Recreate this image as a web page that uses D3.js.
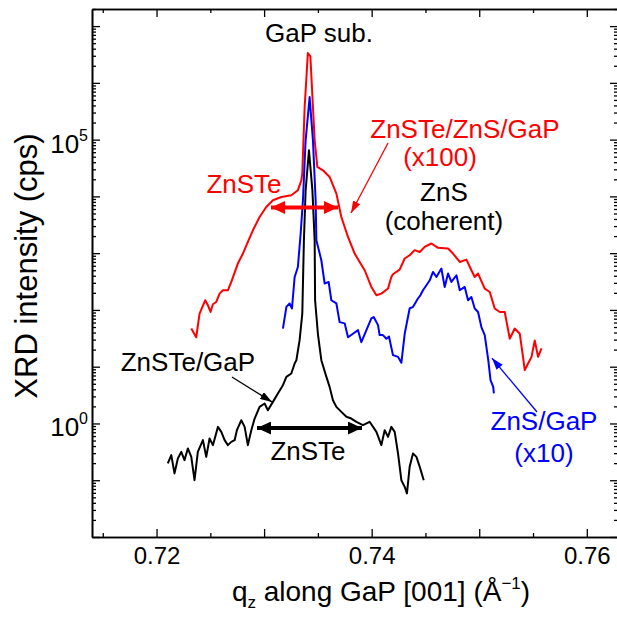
<!DOCTYPE html>
<html>
<head>
<meta charset="utf-8">
<script src="https://cdnjs.cloudflare.com/ajax/libs/d3/7.8.5/d3.min.js"></script>
<style>
body { margin: 0; background: #fff; }
svg { display: block; font-family: "Liberation Sans", Arial, sans-serif; }
</style>
</head>
<body>
<script>
// ZnSTe / ZnS / GaP (x100), red
var redQ = [0.72323, 0.72369, 0.72400, 0.72453, 0.72477, 0.72502, 0.72524, 0.72555, 0.72586, 0.72617,
            0.72663, 0.72695, 0.72756, 0.72803, 0.72849, 0.72896, 0.72958, 0.73020, 0.73082, 0.73160,
            0.73253, 0.73314, 0.73346, 0.73355, 0.73377, 0.73407, 0.73430, 0.73470, 0.73495, 0.73547,
            0.73609, 0.73672, 0.73718, 0.73780, 0.73842, 0.73888, 0.73935, 0.73997, 0.74044, 0.74090,
            0.74152, 0.74183, 0.74198, 0.74260, 0.74307, 0.74353, 0.74400, 0.74447, 0.74493, 0.74555,
            0.74617, 0.74710, 0.74756, 0.74819, 0.74881, 0.74927, 0.74958, 0.74989, 0.75051, 0.75098,
            0.75144, 0.75191, 0.75237, 0.75284, 0.75330, 0.75377, 0.75407, 0.75423, 0.75454, 0.75486,
            0.75516, 0.75547, 0.75579];
var redI = [47, 33, 86, 148, 121, 92, 126, 138, 194, 222,
            222, 311, 656, 984, 1580, 2530, 4340, 6500, 8540, 9750,
            10500, 12800, 19200, 25500, 375000, 3350000, 2930000, 97200, 33000, 28800,
            22000, 11200, 4340, 1930, 984, 700, 500, 254, 181, 194,
            238, 381, 425, 514, 804, 918, 1130, 1050, 1290, 1480,
            1240, 1210, 984, 700, 771, 500, 381, 437, 238, 207,
            106, 92, 92, 31, 47, 38, 14.9, 8.7, 11.4, 14.9,
            29, 14.9, 21];

// ZnS / GaP (x10), blue
var blueQ = [0.73175, 0.73207, 0.73237, 0.73259, 0.73284, 0.73314, 0.73340, 0.73361, 0.73386, 0.73423,
             0.73454, 0.73479, 0.73486, 0.73532, 0.73563, 0.73600, 0.73625, 0.73672, 0.73702, 0.73749,
             0.73780, 0.73826, 0.73873, 0.73904, 0.73951, 0.73997, 0.74019, 0.74059, 0.74074, 0.74105,
             0.74137, 0.74161, 0.74198, 0.74245, 0.74276, 0.74307, 0.74353, 0.74384, 0.74430, 0.74453,
             0.74477, 0.74509, 0.74540, 0.74570, 0.74602, 0.74648, 0.74679, 0.74710, 0.74741, 0.74788,
             0.74819, 0.74865, 0.74896, 0.74927, 0.74958, 0.74989, 0.75020, 0.75051, 0.75084, 0.75105,
             0.75130, 0.75136];
var blueI = [47, 113, 130, 106, 381, 571, 2240, 8540, 97200, 562000,
             97200, 8540, 1690, 750, 292, 311, 148, 130, 61, 58,
             33, 38, 44, 27, 44, 71, 75, 54, 36, 36,
             31, 34, 16, 14.9, 11.7, 38, 106, 113, 159, 181,
             222, 272, 333, 467, 381, 536, 254, 437, 311, 408,
             222, 254, 148, 169, 106, 92, 50, 36, 13, 5.8,
             4.4, 3.4];

// ZnSTe / GaP, black
var blackQ = [0.72105, 0.72137, 0.72167, 0.72198, 0.72230, 0.72260, 0.72291, 0.72323, 0.72353, 0.72384,
              0.72431, 0.72462, 0.72493, 0.72524, 0.72571, 0.72602, 0.72633, 0.72663, 0.72695, 0.72726,
              0.72747, 0.72788, 0.72819, 0.72849, 0.72881, 0.72912, 0.72958, 0.73005, 0.73035, 0.73082,
              0.73128, 0.73175, 0.73207, 0.73253, 0.73284, 0.73300, 0.73330, 0.73355, 0.73370, 0.73386,
              0.73417, 0.73449, 0.73470, 0.73474, 0.73500, 0.73532, 0.73579, 0.73609, 0.73640, 0.73672,
              0.73718, 0.73765, 0.73811, 0.73858, 0.73919, 0.73981, 0.74044, 0.74090, 0.74121, 0.74152,
              0.74183, 0.74214, 0.74245, 0.74276, 0.74307, 0.74328, 0.74353, 0.74384, 0.74416, 0.74447,
              0.74484];
var blackI = [0.198, 0.277, 0.132, 0.242, 0.316, 0.226, 0.363, 0.258, 0.100, 0.316,
              0.508, 0.258, 0.544, 0.415, 0.871, 0.711, 0.508, 0.415, 0.474, 0.508,
              0.762, 1.14, 0.871, 0.415, 0.762, 1.22, 1.96, 2.25, 1.71, 2.40,
              3.38, 4.72, 6.61, 7.59, 11.4, 13.0, 29.3, 86.4, 1690, 12800,
              64800, 12800, 1690, 148, 38, 13.0, 6.61, 4.41, 2.57, 1.96,
              1.60, 1.31, 1.22, 1.07, 0.933, 1.07, 0.711, 0.415, 0.762, 0.581,
              0.871, 0.711, 0.296, 0.100, 0.0765, 0.0586, 0.172, 0.296, 0.258, 0.172,
              0.100];

// tick values and labels
var xMajorTicks = [0.72, 0.73, 0.74, 0.75, 0.76];
var xMinorTicks = [0.715, 0.725, 0.735, 0.745, 0.755];
var xTickLabels = ["0.72", "0.74", "0.76"];
var yDecades = [-2, -1, 0, 1, 2, 3, 4, 5, 6, 7];
var yLabelPowers = [0, 5];

// size of svg and plot box
var fullWidth = 617;
var fullHeight = 617;
var box = {left: 92, right: 618, top: 9, bottom: 537};

var svg = d3.select("body")
            .append("svg")
            .attr("width", fullWidth)
            .attr("height", fullHeight);

// scales
var xScale = d3.scaleLinear()
               .domain([0.714, 0.7629])
               .range([box.left, box.right]);

var yScale = d3.scaleLog()
               .domain([1e-2, 2e7])
               .range([box.bottom, box.top]);

// minor ticks of the log axis: 2..9 in each decade
var yMajor = yDecades.map(function(p) { return Math.pow(10, p); });
var yMinor = [];
yDecades.forEach(function(p) {
    for (var k = 2; k <= 9; k++) {
        var v = k * Math.pow(10, p);
        if (v <= 2e7) yMinor.push(v);
    }
});

function styleAxis(g) {
    g.select(".domain").attr("stroke", "#000").attr("stroke-width", 1.6);
    g.selectAll(".tick line").attr("stroke", "#000").attr("stroke-width", 1.3);
}

// bottom axis (major ticks with labels, minor ticks without)
svg.append("g")
   .attr("transform", "translate(0," + box.bottom + ")")
   .call(d3.axisBottom(xScale).tickValues(xMinorTicks).tickSize(-4).tickSizeOuter(0).tickFormat(""))
   .call(styleAxis);

svg.append("g")
   .attr("transform", "translate(0," + box.bottom + ")")
   .call(d3.axisBottom(xScale).tickValues(xMajorTicks).tickSize(-8).tickSizeOuter(0).tickPadding(10)
         .tickFormat(function(d) {
             var s = d3.format(".2f")(d);
             return xTickLabels.indexOf(s) >= 0 ? s : "";
         }))
   .call(styleAxis)
   .selectAll("text")
   .attr("font-size", 24)
   .attr("font-family", "Liberation Sans, Arial, sans-serif")
   .attr("fill", "#000");

// top axis
svg.append("g")
   .attr("transform", "translate(0," + box.top + ")")
   .call(d3.axisTop(xScale).tickValues(xMinorTicks).tickSize(-4).tickSizeOuter(0).tickFormat(""))
   .call(styleAxis);
svg.append("g")
   .attr("transform", "translate(0," + box.top + ")")
   .call(d3.axisTop(xScale).tickValues(xMajorTicks).tickSize(-8).tickSizeOuter(0).tickFormat(""))
   .call(styleAxis);

// left axis
svg.append("g")
   .attr("transform", "translate(" + box.left + ",0)")
   .call(d3.axisLeft(yScale).tickValues(yMinor).tickSize(-4).tickSizeOuter(0).tickFormat(""))
   .call(styleAxis);
svg.append("g")
   .attr("transform", "translate(" + box.left + ",0)")
   .call(d3.axisLeft(yScale).tickValues(yMajor).tickSize(-8).tickSizeOuter(0).tickFormat(""))
   .call(styleAxis);

// right axis
svg.append("g")
   .attr("transform", "translate(" + box.right + ",0)")
   .call(d3.axisRight(yScale).tickValues(yMinor).tickSize(-4).tickSizeOuter(0).tickFormat(""))
   .call(styleAxis);
svg.append("g")
   .attr("transform", "translate(" + box.right + ",0)")
   .call(d3.axisRight(yScale).tickValues(yMajor).tickSize(-8).tickSizeOuter(0).tickFormat(""))
   .call(styleAxis);

// y labels 10^n
var yLab = svg.selectAll(".ylab")
              .data(yLabelPowers)
              .enter()
              .append("text")
              .attr("class", "ylab")
              .attr("x", box.left - 4)
              .attr("y", function(d) { return yScale(Math.pow(10, d)) + 13; })
              .attr("text-anchor", "end")
              .attr("font-size", 26);
yLab.append("tspan").text("10");
yLab.append("tspan")
    .attr("dy", -12)
    .attr("font-size", 16)
    .text(function(d) { return d; });

// axis titles
var xTitle = svg.append("text")
                .attr("x", 381)
                .attr("y", 601)
                .attr("text-anchor", "middle")
                .attr("font-size", 28);
xTitle.append("tspan").text("q");
xTitle.append("tspan").attr("dy", 7).attr("font-size", 17).text("z");
xTitle.append("tspan").attr("dy", -7).text(" along GaP [001] (Å");
xTitle.append("tspan").attr("dy", -12).attr("font-size", 17).text("\u22121");
xTitle.append("tspan").attr("dy", 12).text(")");

svg.append("text")
   .attr("transform", "translate(37,266) rotate(-90)")
   .attr("text-anchor", "middle")
   .attr("font-size", 31)
   .text("XRD intensity (cps)");

// arrow heads
var defs = svg.append("defs");
[["red", "#ff0000"], ["black", "#000000"], ["blue", "#0000ff"]].forEach(function(c) {
    defs.append("marker")
        .attr("id", "head-" + c[0])
        .attr("markerUnits", "userSpaceOnUse")
        .attr("viewBox", "0 0 12 8")
        .attr("markerWidth", 12)
        .attr("markerHeight", 8)
        .attr("refX", 12)
        .attr("refY", 4)
        .attr("orient", "auto-start-reverse")
        .append("path")
        .attr("d", "M0,0L12,4L0,8z")
        .attr("fill", c[1]);
    defs.append("marker")
        .attr("id", "big-" + c[0])
        .attr("markerUnits", "userSpaceOnUse")
        .attr("viewBox", "0 0 14 13")
        .attr("markerWidth", 14)
        .attr("markerHeight", 13)
        .attr("refX", 14)
        .attr("refY", 6.5)
        .attr("orient", "auto-start-reverse")
        .append("path")
        .attr("d", "M0,0L14,6.5L0,13z")
        .attr("fill", c[1]);
});

// draw the curves
var line = d3.line()
             .x(function(d) { return xScale(d[0]); })
             .y(function(d) { return yScale(d[1]); });

var series = [
    {q: redQ, v: redI, color: "#ff0000"},
    {q: blueQ, v: blueI, color: "#0000ff"},
    {q: blackQ, v: blackI, color: "#000000"}
];

svg.selectAll(".curve")
   .data(series)
   .enter()
   .append("path")
   .attr("class", "curve")
   .attr("d", function(d) { return line(d3.zip(d.q, d.v)); })
   .attr("fill", "none")
   .attr("stroke", function(d) { return d.color; })
   .attr("stroke-width", 2)
   .attr("stroke-linejoin", "round");

// annotation texts, placed in data coordinates
var notes = [
    {t: "GaP sub.", q: 0.73510, v: 5.2e6, c: "#000000"},
    {t: "ZnSTe/ZnS/GaP", q: 0.74867, v: 1.07e5, c: "#ff0000"},
    {t: "(x100)", q: 0.74635, v: 3.4e4, c: "#ff0000"},
    {t: "ZnSTe", q: 0.72813, v: 1.15e4, c: "#ff0000"},
    {t: "ZnS", q: 0.74672, v: 8300, c: "#000000"},
    {t: "(coherent)", q: 0.74672, v: 2560, c: "#000000"},
    {t: "ZnSTe/GaP", q: 0.72292, v: 8.4, c: "#000000"},
    {t: "ZnSTe", q: 0.73408, v: 0.227, c: "#000000"},
    {t: "ZnS/GaP", q: 0.75602, v: 0.77, c: "#0000ff"},
    {t: "(x10)", q: 0.75602, v: 0.21, c: "#0000ff"}
];

svg.selectAll(".note")
   .data(notes)
   .enter()
   .append("text")
   .attr("class", "note")
   .attr("x", function(d) { return xScale(d.q); })
   .attr("y", function(d) { return yScale(d.v); })
   .attr("text-anchor", "middle")
   .attr("font-size", 26)
   .attr("fill", function(d) { return d.c; })
   .text(function(d) { return d.t; });

// arrows: thin pointers and thick double arrows for widths
var arrows = [
    {q1: 0.74152, v1: 87000, q2: 0.73808, v2: 5100, c: "red", w: 1.3, big: false},
    {q1: 0.72701, v1: 6.6, q2: 0.73073, v2: 2.4, c: "black", w: 1.3, big: false},
    {q1: 0.75537, v1: 1.59, q2: 0.75118, v2: 14.2, c: "blue", w: 1.3, big: false},
    {q1: 0.73064, v1: 6370, q2: 0.73687, v2: 6370, c: "red", w: 4, big: true},
    {q1: 0.72934, v1: 0.83, q2: 0.73910, v2: 0.83, c: "black", w: 4, big: true}
];
var colorOf = {red: "#ff0000", black: "#000000", blue: "#0000ff"};

svg.selectAll(".arrow")
   .data(arrows)
   .enter()
   .append("line")
   .attr("class", "arrow")
   .attr("x1", function(d) { return xScale(d.q1); })
   .attr("y1", function(d) { return yScale(d.v1); })
   .attr("x2", function(d) { return xScale(d.q2); })
   .attr("y2", function(d) { return yScale(d.v2); })
   .attr("stroke", function(d) { return colorOf[d.c]; })
   .attr("stroke-width", function(d) { return d.w; })
   .attr("marker-end", function(d) { return "url(#" + (d.big ? "big-" : "head-") + d.c + ")"; })
   .attr("marker-start", function(d) { return d.big ? "url(#big-" + d.c + ")" : null; });
</script>
</body>
</html>
